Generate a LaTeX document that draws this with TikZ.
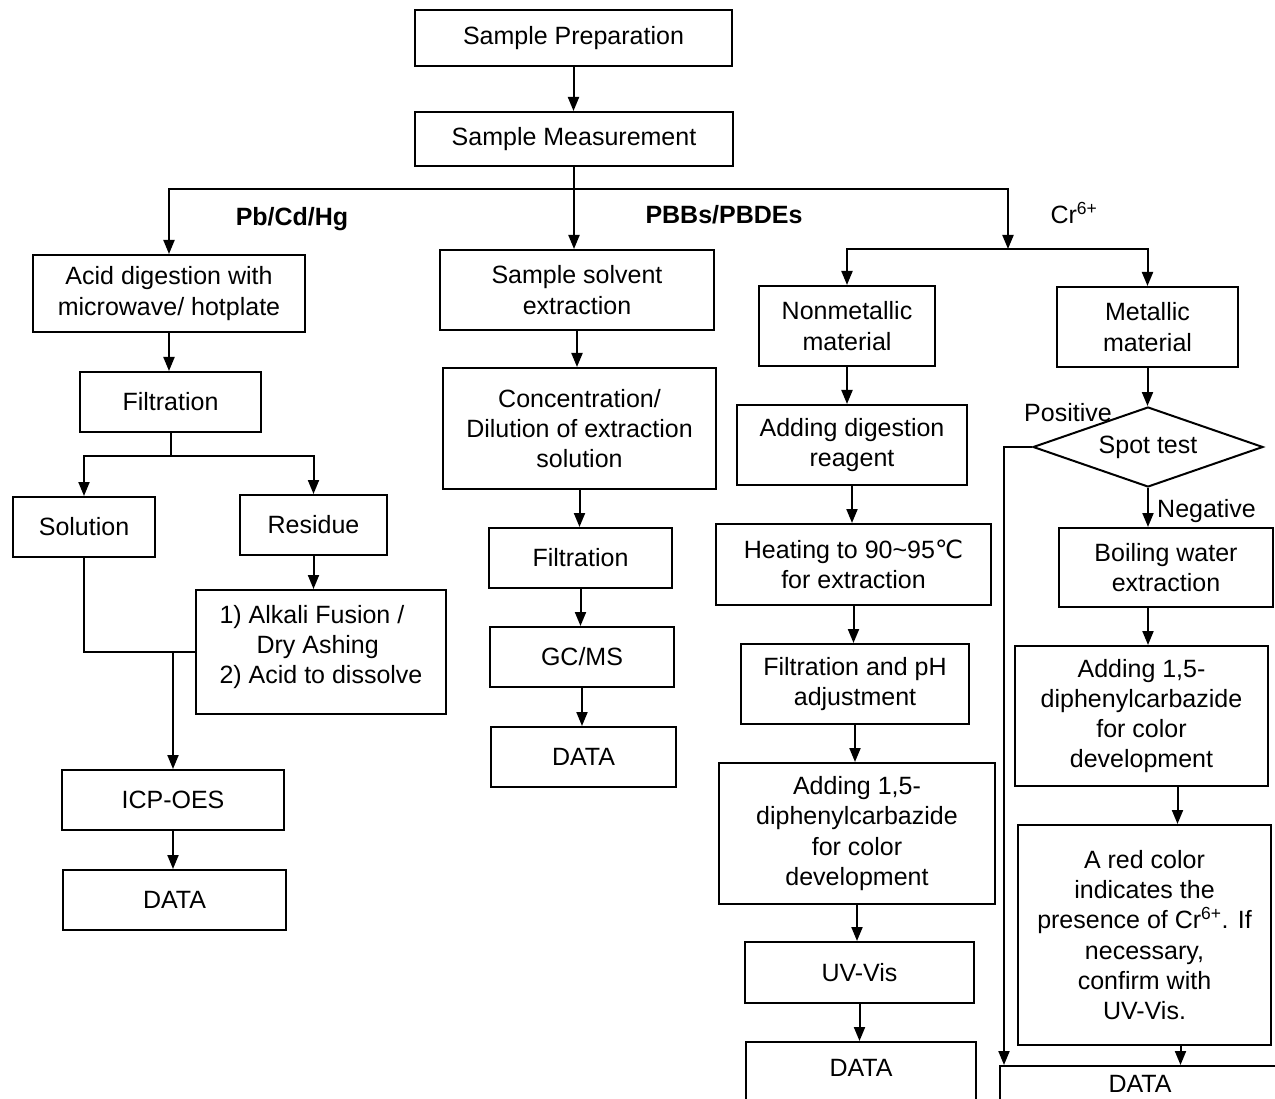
\documentclass[tikz,border=0pt]{standalone}
\usepackage{fontspec}
\setmainfont{Liberation Sans}
\newfontfamily\djv{DejaVu Sans}
\usetikzlibrary{arrows.meta,shapes.geometric}
\newcommand\bx[6]{\node[box,minimum width=#4pt,minimum height=#5pt] (#1) at (#2,#3) {#6};}
\begin{document}
\begin{tikzpicture}[x=1pt,y=-1pt,
  every node/.style={font=\fontsize{25}{30.3}\selectfont},
  box/.style={draw, line width=2pt, rectangle, align=center, inner sep=0pt},
  arr/.style={line width=2pt, -{Triangle[length=14pt,width=11pt]}},
  ln/.style={line width=2pt},
  lab/.style={font=\fontsize{25}{30}\selectfont\bfseries}]
\useasboundingbox (0,0) rectangle (1275,1099);
\clip (0,0) rectangle (1275,1099);
\fill[white] (0,0) rectangle (1275,1099);

% top
\bx{prep}{573.5}{38}{317}{56}{Sample Preparation}
\bx{meas}{574}{139}{318}{54}{Sample Measurement}

% left column
\bx{acid}{169}{293.5}{272}{77}{Acid digestion with\\microwave/ hotplate}
\bx{filt1}{170.5}{402}{181}{60}{Filtration}
\bx{sol}{84}{527}{142}{60}{Solution}
\bx{res}{313.5}{525}{147}{60}{Residue}
\node[box,minimum width=250pt,minimum height=124pt] (alk) at (321,652) {};
\node[anchor=west,align=left] (alkt) at (216,647) {1) Alkali Fusion /\\\hspace*{37pt}Dry Ashing\\2) Acid to dissolve};
\bx{icp}{173}{800}{222}{60}{ICP-OES}
\bx{data1}{174.5}{900}{223}{60}{DATA}

% middle column
\bx{solv}{577}{290}{274}{80}{Sample solvent\\extraction}
\bx{conc}{579.5}{428.5}{273}{121}{Concentration/\\Dilution of extraction\\solution}
\bx{filt2}{580.5}{558}{183}{60}{Filtration}
\bx{gcms}{582}{657}{184}{60}{GC/MS}
\bx{data2}{583.5}{757}{185}{60}{DATA}

% nonmetallic column
\bx{nonmet}{847}{326}{176}{80}{Nonmetallic\\material}
\bx{add1}{852}{445}{230}{80}{Adding digestion\\reagent}
\bx{heat}{853.5}{564.5}{275}{81}{Heating to 90\textasciitilde95{\djv ℃}\\for extraction}
\bx{filtph}{855}{684}{228}{80}{Filtration and pH\\adjustment}
\bx{dpc1}{857}{833.5}{276}{141}{Adding 1,5-\\diphenylcarbazide\\for color\\development}
\bx{uvvis}{859.5}{972.5}{229}{61}{UV-Vis}
\node[box,minimum width=230pt,minimum height=80pt,anchor=north] (data3) at (861,1041) {};
\node (data3t) at (861,1068) {DATA};

% metallic column
\bx{met}{1147.5}{327}{181}{80}{Metallic\\material}
\node[draw,diamond,line width=2pt,minimum width=230pt,minimum height=80pt,inner sep=0pt,aspect=2.875] (spot) at (1148,447) {Spot test};
\bx{boil}{1166}{567.5}{214}{79}{Boiling water\\extraction}
\bx{dpc2}{1141.5}{716}{253}{140}{Adding 1,5-\\diphenylcarbazide\\for color\\development}
\bx{red}{1144.5}{935}{253}{220}{A red color\\indicates the\\presence of Cr\textsuperscript{6+}. If\\necessary,\\confirm with\\UV-Vis.}
\node[box,minimum width=290pt,minimum height=80pt,anchor=north west] (data4) at (999,1065) {};
\node (data4t) at (1140,1084) {DATA};

% labels
\node[lab] (lpb) at (292,219) {Pb/Cd/Hg};
\node[lab] (lpbb) at (724,215) {PBBs/PBDEs};
\node (lcr) at (1074,213) {Cr\textsuperscript{6+}};
\node (lpos) at (1068,413) {Positive};
\node[anchor=west,inner sep=0pt] (lneg) at (1157,511) {Negative};

% connectors
\draw[arr] (prep.south) -- (prep.south |- meas.north);
\draw[arr] (meas.south) -- ++(0,22) -| (acid.north);
\draw[arr] (meas.south) -- (meas.south |- solv.north);
\coordinate (crbus) at (1008,249);
\draw[arr] (meas.south) -- ++(0,22) -| (crbus);
\draw[arr] (crbus) -| (nonmet.north);
\draw[arr] (crbus) -| (met.north);

\draw[arr] (acid.south) -- (acid.south |- filt1.north);
\draw[arr] (filt1.south) -- ++(0,23) -| (sol.north);
\draw[arr] (filt1.south) -- ++(0,23) -| (res.north);
\draw[arr] (res.south) -- (res.south |- alk.north);
\draw[ln] (sol.south) |- (alk.west);
\coordinate (jn) at (icp.north |- alk.west);
\draw[arr] (jn) -- (icp.north);
\draw[arr] (icp.south) -- (icp.south |- data1.north);

\draw[arr] (solv.south) -- (solv.south |- conc.north);
\draw[arr] (conc.south) -- (conc.south |- filt2.north);
\draw[arr] (filt2.south) -- (filt2.south |- gcms.north);
\draw[arr] (gcms.south) -- (gcms.south |- data2.north);

\draw[arr] (nonmet.south) -- (nonmet.south |- add1.north);
\draw[arr] (add1.south) -- (add1.south |- heat.north);
\draw[arr] (heat.south) -- (heat.south |- filtph.north);
\draw[arr] (filtph.south) -- (filtph.south |- dpc1.north);
\draw[arr] (dpc1.south) -- (dpc1.south |- uvvis.north);
\draw[arr] (uvvis.south) -- (uvvis.south |- data3.north);

\draw[arr] (met.south) -- (met.south |- spot.north);
\draw[arr] (spot.south) -- (spot.south |- boil.north);
\draw[arr] (spot.south |- boil.south) -- (spot.south |- dpc2.north);
\draw[arr] ([xshift=36pt]dpc2.south) -- ([xshift=36pt]dpc2.south |- red.north);
\draw[arr] ([xshift=36pt]red.south) -- ([xshift=36pt]red.south |- data4.north);
\draw[arr] (spot.west) -- ++(-28,0) coordinate (pc) -- (pc |- data4.north);
\end{tikzpicture}
\end{document}
